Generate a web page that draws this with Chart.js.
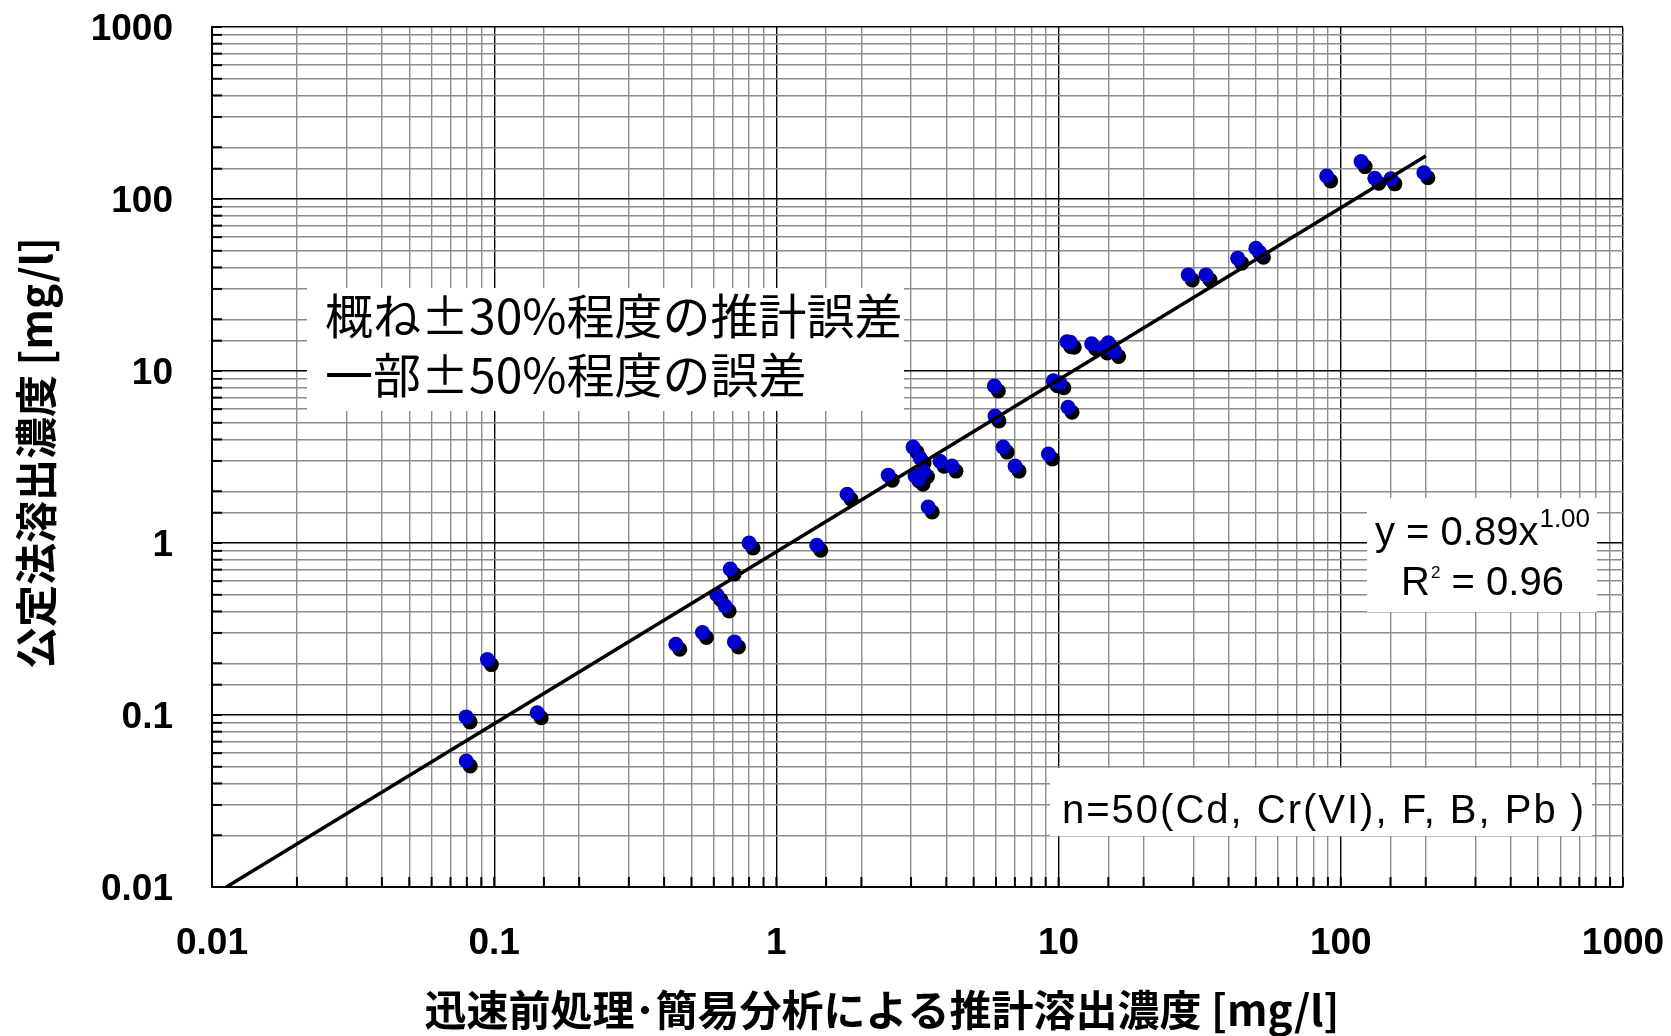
<!DOCTYPE html>
<html lang="ja">
<head>
    <meta charset="UTF-8">
    <title>公定法溶出濃度 vs 推計溶出濃度</title>
    <style>
        html, body { margin: 0; padding: 0; background: #fff; }
        #wrap { width: 1671px; height: 1036px; }
    </style>
</head>
<body>
    <div id="wrap">
        <canvas id="myChart" width="1671" height="1036"></canvas>
    </div>

    <script src="https://cdn.jsdelivr.net/npm/chart.js@4.4.0/dist/chart.umd.min.js"></script>
    <script>
        // measured values (x: 迅速前処理・簡易分析, y: 公定法)
        var estX = [0.0795, 0.0796, 0.0946, 0.142, 0.44, 0.547, 0.71, 0.615, 0.658, 0.686,
                    0.80, 1.39, 1.78, 2.49, 3.05, 3.23, 3.10, 3.32, 3.20, 3.80,
                    4.19, 3.45, 5.92, 5.95, 6.36, 7.01, 9.2, 9.58, 10.1, 10.7,
                    11.0, 10.8, 13.1, 15.0, 14.4, 15.8, 28.8, 33.3, 43.1, 50.0,
                    51.5, 89.1, 118, 132, 150.5, 197];
        var offY = [0.0975, 0.054, 0.21, 0.103, 0.258, 0.302, 0.266, 0.50, 0.43, 0.705,
                    1.0, 0.97, 1.92, 2.48, 3.61, 3.12, 2.45, 2.6, 2.35, 2.99,
                    2.80, 1.62, 8.18, 5.47, 3.61, 2.80, 3.29, 8.78, 8.55, 14.8,
                    14.7, 6.15, 14.4, 14.6, 13.6, 13.0, 36.2, 36.2, 45.3, 51.7,
                    49.0, 136, 165, 132, 131, 142];

        // power fit y = 0.89x^1.00, end points as drawn
        var fitX = [0.01124, 200];
        var fitY = [0.01, 178];

        var tickValues = [0.01, 0.1, 1, 10, 100, 1000];
        var tickLabels = ['0.01', '0.1', '1', '10', '100', '1000'];

        var jpFont = '"Noto Sans CJK JP", "Noto Sans", sans-serif';
        var latinFont = '"Liberation Sans", Arial, sans-serif';

        function isMajor(v) {
            var l = Math.log10(v);
            return Math.abs(l - Math.round(l)) < 1e-6;
        }

        function majorLabel(v) {
            for (var i = 0; i < tickValues.length; i++) {
                if (Math.abs(Math.log10(tickValues[i]) - Math.log10(v)) < 1e-6) return tickLabels[i];
            }
            return '';
        }

        function zip(xs, ys) {
            return xs.map(function (x, i) { return { x: x, y: ys[i] }; });
        }

        function noPad(s) {
            s.paddingTop = 0;
            s.paddingBottom = 0;
            s.paddingLeft = 0;
            s.paddingRight = 0;
        }

        var dotShadow = {
            id: 'dotShadow',
            beforeDatasetDraw: function (chart, args) {
                if (args.index !== 1) return;
                var ctx = chart.ctx;
                ctx.save();
                ctx.shadowColor = '#000';
                ctx.shadowBlur = 0;
                ctx.shadowOffsetX = 4;
                ctx.shadowOffsetY = 5;
            },
            afterDatasetDraw: function (chart, args) {
                if (args.index !== 1) return;
                chart.ctx.restore();
            }
        };

        var boxesAndTicks = {
            id: 'boxesAndTicks',
            beforeDatasetsDraw: function (chart) {
                var ctx = chart.ctx;
                var a = chart.chartArea;
                var xs = chart.scales.x, ys = chart.scales.y;
                ctx.save();

                // short black ticks inside the frame
                ctx.strokeStyle = '#000';
                ctx.lineWidth = 2;
                xs.ticks.forEach(function (t) {
                    var px = xs.getPixelForValue(t.value);
                    ctx.beginPath();
                    ctx.moveTo(px, a.bottom);
                    ctx.lineTo(px, a.bottom - 10);
                    ctx.stroke();
                });
                ys.ticks.forEach(function (t) {
                    var py = ys.getPixelForValue(t.value);
                    ctx.beginPath();
                    ctx.moveTo(a.left, py);
                    ctx.lineTo(a.left + 10, py);
                    ctx.stroke();
                });

                // white text boxes
                ctx.fillStyle = '#fff';
                ctx.fillRect(307, 288, 597, 123);
                ctx.fillRect(1367, 498, 230, 114);
                ctx.fillRect(1050, 768, 542, 68);

                ctx.fillStyle = '#000';
                ctx.textBaseline = 'middle';
                ctx.textAlign = 'left';
                ctx.font = '48px ' + jpFont;
                ctx.fillText('概ね±30%程度の推計誤差', 325, 316);
                ctx.fillText('一部±50%程度の誤差', 325, 375);

                // equation
                var main = 'y = 0.89x';
                ctx.font = '40px ' + latinFont;
                var w1 = ctx.measureText(main).width;
                ctx.font = '26px ' + latinFont;
                var w2 = ctx.measureText('1.00').width;
                var sx = 1482 - (w1 + w2) / 2;
                ctx.font = '40px ' + latinFont;
                ctx.fillText(main, sx, 534);
                ctx.font = '26px ' + latinFont;
                ctx.fillText('1.00', sx + w1 + 1, 520);

                ctx.font = '40px ' + latinFont;
                var r1 = ctx.measureText('R').width;
                var r3 = ctx.measureText(' = 0.96').width;
                ctx.font = '17px ' + latinFont;
                var r2 = ctx.measureText('2').width;
                var rx = 1482 - (r1 + r2 + r3) / 2;
                ctx.font = '40px ' + latinFont;
                ctx.fillText('R', rx, 584);
                ctx.font = '17px ' + latinFont;
                ctx.fillText('2', rx + r1 + 1, 573);
                ctx.font = '40px ' + latinFont;
                ctx.fillText(' = 0.96', rx + r1 + r2 + 1, 584);

                ctx.font = '40px ' + latinFont;
                ctx.letterSpacing = '2px';
                ctx.fillText('n=50(Cd, Cr(VI), F, B, Pb )', 1062, 812);

                ctx.restore();
            },
            afterDraw: function (chart) {
                var ctx = chart.ctx;
                ctx.save();
                ctx.fillStyle = '#000';
                ctx.textAlign = 'center';
                ctx.textBaseline = 'middle';
                ctx.font = 'bold 42px ' + jpFont;
                ctx.fillText('迅速前処理･簡易分析による推計溶出濃度 [mg/l]', 882, 1010);
                ctx.translate(36, 453);
                ctx.rotate(-Math.PI / 2);
                ctx.fillText('公定法溶出濃度 [mg/l]', 0, 0);
                ctx.restore();
            }
        };

        var gridOpts = {
            color: function (c) { return c.tick && isMajor(c.tick.value) ? '#000' : '#8c8c8c'; },
            lineWidth: 1.4,
            drawTicks: false
        };

        var ctx = document.getElementById('myChart').getContext('2d');
        var myChart = new Chart(ctx, {
            type: 'scatter',
            data: {
                datasets: [
                    {
                        type: 'line',
                        data: zip(fitX, fitY),
                        borderColor: '#000',
                        borderWidth: 3.5,
                        pointRadius: 0,
                        fill: false,
                        order: 0
                    },
                    {
                        data: zip(estX, offY),
                        backgroundColor: 'rgb(0,0,205)',
                        borderWidth: 0,
                        pointRadius: 7.5,
                        order: 1
                    }
                ]
            },
            options: {
                responsive: false,
                animation: false,
                devicePixelRatio: 1,
                layout: { padding: { top: 27, right: 48, left: 0, bottom: 0 } },
                plugins: {
                    legend: { display: false },
                    tooltip: { enabled: false }
                },
                scales: {
                    x: {
                        type: 'logarithmic',
                        min: 0.01,
                        max: 1000,
                        grid: gridOpts,
                        border: { color: '#000', width: 2 },
                        ticks: {
                            autoSkip: false,
                            maxRotation: 0,
                            padding: 35,
                            color: '#000',
                            font: { family: latinFont, size: 37, weight: 'bold' },
                            callback: function (v) { return majorLabel(v); }
                        },
                        afterFit: function (s) { s.height = 149; noPad(s); }
                    },
                    y: {
                        type: 'logarithmic',
                        min: 0.01,
                        max: 1000,
                        grid: gridOpts,
                        border: { color: '#000', width: 2 },
                        ticks: {
                            autoSkip: false,
                            padding: 39,
                            labelOffset: 3,
                            color: '#000',
                            font: { family: latinFont, size: 37, weight: 'bold' },
                            callback: function (v) { return majorLabel(v); }
                        },
                        afterFit: function (s) { s.width = 212; noPad(s); }
                    }
                }
            },
            plugins: [dotShadow, boxesAndTicks]
        });
    </script>
</body>
</html>
